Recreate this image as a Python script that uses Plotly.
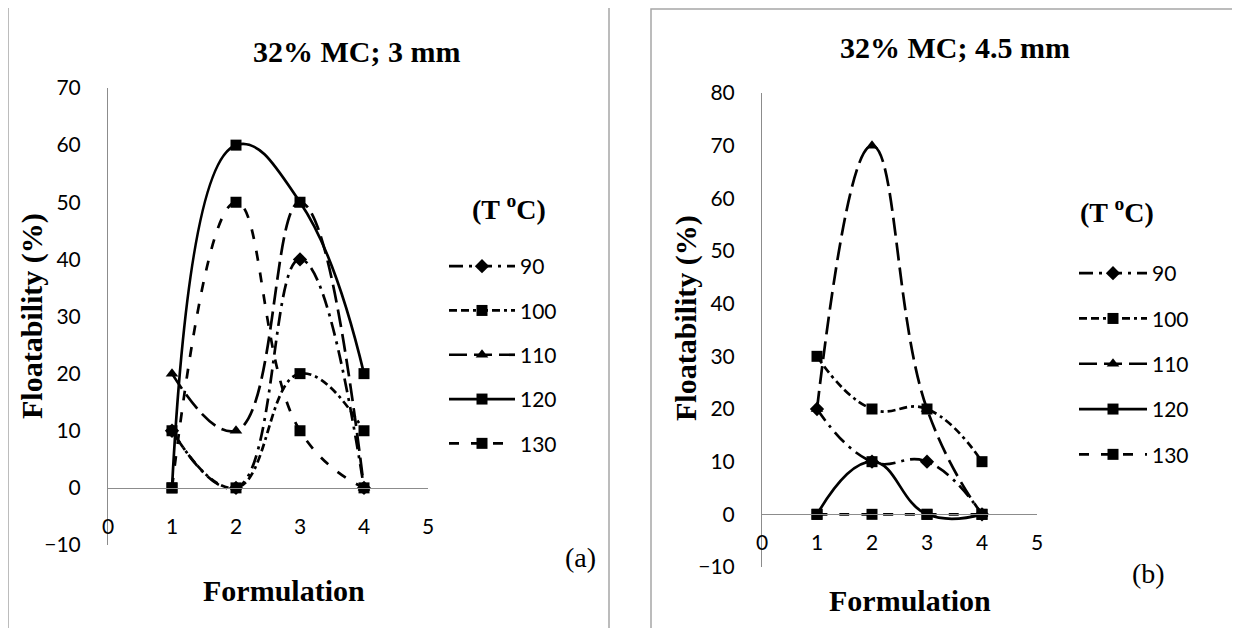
import plotly.graph_objects as go

# ---------------- data ----------------
formulation = [1, 2, 3, 4]
temps = ["90", "100", "110", "120", "130"]

# panel (a): 32% MC; 3 mm
a_90 = [10, 0, 40, 0]
a_100 = [10, 0, 20, 10]
a_110 = [20, 10, 50, 0]
a_120 = [0, 60, 50, 20]
a_130 = [0, 50, 10, 0]

# panel (b): 32% MC; 4.5 mm
b_90 = [20, 10, 10, 0]
b_100 = [30, 20, 20, 10]
b_110 = [20, 70, 20, 0]
b_120 = [0, 10, 0, 0]
b_130 = [0, 0, 0, 0]

title_a = "32% MC; 3 mm"
title_b = "32% MC; 4.5 mm"
x_title = "Formulation"
y_title = "Floatability (%)"
legend_title = "(T <sup>o</sup>C)"
x_ticks = [0, 1, 2, 3, 4, 5]
ya_ticks = [-10, 0, 10, 20, 30, 40, 50, 60, 70]
yb_ticks = [-10, 0, 10, 20, 30, 40, 50, 60, 70, 80]

# ---------------- styles ----------------
dashes = {
    "90": "14px,6px,3px,6px",
    "100": "8px,4px,8px,4px,3px,4px",
    "110": "18px,7px",
    "120": "solid",
    "130": "10px,12px",
}
symbols = {"90": "diamond", "100": "square", "110": "triangle-up",
           "120": "square", "130": "square"}

W, H = 1240, 628
OFF = 8  # page body margin offset
def fx(px):
    return (px - OFF) / W
def fy(py):
    return 1 - (py - OFF) / H

fig = go.Figure()

series_a = [a_90, a_100, a_110, a_120, a_130]
series_b = [b_90, b_100, b_110, b_120, b_130]

for t, vals in zip(temps, series_a):
    fig.add_trace(go.Scatter(
        x=formulation, y=vals, name=t, mode="lines+markers",
        line=dict(color="black", width=2.7, dash=dashes[t], shape="spline", smoothing=1.3),
        marker=dict(symbol=symbols[t], size=11, color="black"),
        xaxis="x", yaxis="y", legend="legend", legendgroup="a" + t,
    ))
for t, vals in zip(temps, series_b):
    fig.add_trace(go.Scatter(
        x=formulation, y=vals, name=t, mode="lines+markers",
        line=dict(color="black", width=2.7, dash=dashes[t], shape="spline", smoothing=1.3),
        marker=dict(symbol=symbols[t], size=11, color="black"),
        xaxis="x2", yaxis="y2", legend="legend2", legendgroup="b" + t,
    ))

tick_font = dict(family="Lato, Open Sans, sans-serif", size=21, color="black")
serif = "Liberation Serif, Times New Roman, serif"
axis_col = "#8c8c8c"

# pixel geometry
ya_dom = [fy(545), fy(88)]
yb_dom = [fy(567), fy(93)]
xa_dom = [fx(108), fx(428)]
xb_dom = [fx(762), fx(1037)]

pos_a = ya_dom[0] + (10 / 80) * (ya_dom[1] - ya_dom[0])
pos_b = yb_dom[0] + (10 / 90) * (yb_dom[1] - yb_dom[0])

common_x = dict(range=[0, 5], tickvals=x_ticks, anchor="free", showline=True,
                linecolor=axis_col, linewidth=1, showgrid=False, zeroline=False,
                ticks="", tickfont=tick_font, automargin=False)
common_y = dict(showline=True, linecolor=axis_col, linewidth=1, showgrid=False,
                zeroline=False, ticks="", tickfont=tick_font, ticklabelstandoff=22,
                automargin=False)

fig.update_layout(
    width=W, height=H,
    margin=dict(l=0, r=0, t=0, b=0),
    paper_bgcolor="white", plot_bgcolor="white",
    showlegend=True,
    xaxis=dict(domain=xa_dom, position=pos_a, ticklabelstandoff=20, **common_x),
    yaxis=dict(domain=ya_dom, range=[-10, 70], tickvals=ya_ticks, anchor="x", **common_y),
    xaxis2=dict(domain=xb_dom, position=pos_b, ticklabelstandoff=9, **common_x),
    yaxis2=dict(domain=yb_dom, range=[-10, 80], tickvals=yb_ticks, anchor="x2", **common_y),
    legend=dict(x=fx(444), y=fy(246), xanchor="left", yanchor="top",
                font=tick_font, traceorder="grouped", tracegroupgap=14,
                bgcolor="rgba(0,0,0,0)", itemwidth=66),
    legend2=dict(x=fx(1074), y=fy(253), xanchor="left", yanchor="top",
                 font=tick_font, traceorder="grouped", tracegroupgap=15,
                 bgcolor="rgba(0,0,0,0)", itemwidth=68),
)

# panel borders
fig.add_shape(type="rect", xref="paper", yref="paper", x0=fx(8), x1=fx(609), y0=fy(650), y1=fy(5),
              line=dict(color="#a6a6a6", width=1.5), fillcolor="rgba(0,0,0,0)", layer="below")
fig.add_shape(type="rect", xref="paper", yref="paper", x0=fx(651), x1=fx(1260), y0=fy(650), y1=fy(9),
              line=dict(color="#a6a6a6", width=1.5), fillcolor="rgba(0,0,0,0)", layer="below")

def label(text, x, y, size, angle=0):
    fig.add_annotation(text=text, xref="paper", yref="paper", x=fx(x), y=fy(y),
                       showarrow=False, xanchor="center", yanchor="middle", textangle=angle,
                       font=dict(family=serif, size=size, color="black"))

label("<b>" + title_a + "</b>", 356, 52, 30)
label("<b>" + title_b + "</b>", 955, 48, 30)
label("<b>" + legend_title + "</b>", 509, 207, 28)
label("<b>" + legend_title + "</b>", 1117, 210, 28)
label("<b>" + x_title + "</b>", 284, 590, 30)
label("<b>" + x_title + "</b>", 910, 600, 30)
label("<b>" + y_title + "</b>", 32, 316, 30, -90)
label("<b>" + y_title + "</b>", 686, 318, 30, -90)
label("(a)", 580, 557, 28)
label("(b)", 1148, 573, 28)

fig.write_html("out.html")
